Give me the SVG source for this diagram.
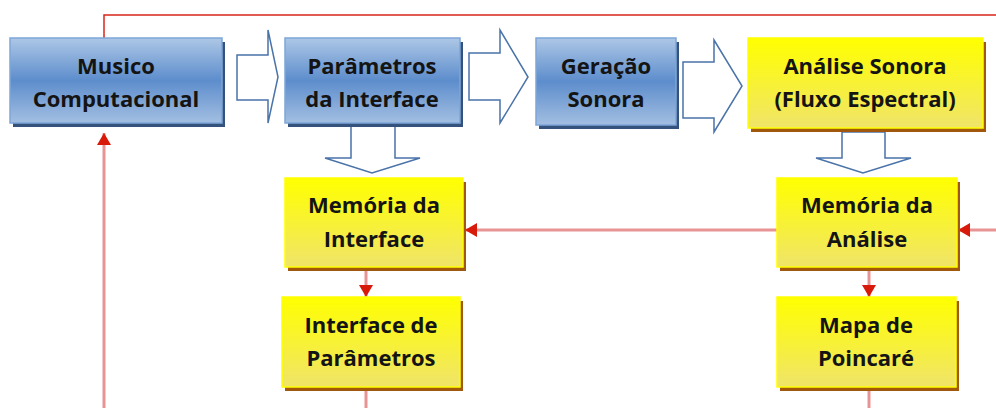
<svg xmlns="http://www.w3.org/2000/svg" width="996" height="408" viewBox="0 0 996 408">
<defs>
<linearGradient id="gb" x1="0" y1="0" x2="0" y2="1">
<stop offset="0" stop-color="#adc7e6"/>
<stop offset="0.5" stop-color="#5d8dcc"/>
<stop offset="1" stop-color="#a3bfe2"/>
</linearGradient>
<linearGradient id="gy" x1="0" y1="0" x2="0" y2="1">
<stop offset="0" stop-color="#ffff00"/>
<stop offset="1" stop-color="#f0e46a"/>
</linearGradient>
<marker id="ah" viewBox="0 0 12 14" refX="12" refY="7" markerWidth="12" markerHeight="14" markerUnits="userSpaceOnUse" orient="auto">
<path d="M0,0 L12,7 L0,14 Z" fill="#d81a0a"/>
</marker>
<style>
.bs{fill:#34527c}
.bb{fill:url(#gb);stroke:#7ea6d8;stroke-width:1.5}
.ys{fill:#a2580c}
.yb{fill:url(#gy);stroke:#ffff00;stroke-width:1.5}
.t{font-family:"Open Sans","Liberation Sans",sans-serif;font-weight:bold;font-size:22px;fill:#141414;text-anchor:middle}
.ha{fill:#ffffff;stroke:#4a73a9;stroke-width:1.5}
.c{fill:none;stroke:#e89494;stroke-width:3}
.top{fill:none;stroke:#d8261a;stroke-width:1.5}
</style>
</defs>
<g id="connectors">
<polyline class="top" points="996,15 104,15 104,38"/>
<line class="c" x1="104" y1="408" x2="104" y2="133" marker-end="url(#ah)"/>
<line class="c" x1="777" y1="230" x2="465" y2="230" marker-end="url(#ah)"/>
<line class="c" x1="996" y1="230" x2="958" y2="230" marker-end="url(#ah)"/>
<line class="c" x1="366" y1="268" x2="366" y2="297" marker-end="url(#ah)"/>
<line class="c" x1="869" y1="268" x2="869" y2="297" marker-end="url(#ah)"/>
<line class="c" x1="366" y1="390" x2="366" y2="408"/>
<line class="c" x1="869" y1="390" x2="869" y2="408"/>
<polygon class="ha" points="237,55 268,55 268,30 278,77 268,123 268,100 237,100"/>
<polygon class="ha" points="469,53 500,53 500,30 528,77 500,123 500,100 469,100"/>
<polygon class="ha" points="683,62 714,62 714,40 742,86 714,132 714,118 683,118"/>
<polygon class="ha" points="351,125 395,125 395,158 420,158 372,173 325,158 351,158"/>
<polygon class="ha" points="842,132 885,132 885,158 911,158 863,173 816,158 842,158"/>
</g>
<g id="musico">
<rect class="bs" x="13" y="42" width="212" height="85"/>
<rect class="bb" x="10" y="38" width="212" height="85"/>
<text class="t" x="116" y="74">Musico</text>
<text class="t" x="116" y="107">Computacional</text>
</g>
<g id="parametros">
<rect class="bs" x="288" y="42" width="175" height="85"/>
<rect class="bb" x="285" y="38" width="175" height="85"/>
<text class="t" x="372" y="74">Parâmetros</text>
<text class="t" x="372" y="107">da Interface</text>
</g>
<g id="geracao">
<rect class="bs" x="539" y="42" width="140" height="87"/>
<rect class="bb" x="536" y="38" width="140" height="87"/>
<text class="t" x="606" y="74">Geração</text>
<text class="t" x="606" y="107">Sonora</text>
</g>
<g id="analise">
<rect class="ys" x="751" y="42" width="235" height="90"/>
<rect class="yb" x="748" y="38" width="235" height="90"/>
<text class="t" x="865" y="74">Análise Sonora</text>
<text class="t" x="865" y="107">(Fluxo Espectral)</text>
</g>
<g id="memoria-interface">
<rect class="ys" x="288" y="182" width="178" height="89"/>
<rect class="yb" x="285" y="178" width="178" height="89"/>
<text class="t" x="374" y="213">Memória da</text>
<text class="t" x="374" y="247">Interface</text>
</g>
<g id="memoria-analise">
<rect class="ys" x="780" y="182" width="180" height="89"/>
<rect class="yb" x="777" y="178" width="180" height="89"/>
<text class="t" x="867" y="213">Memória da</text>
<text class="t" x="867" y="247">Análise</text>
</g>
<g id="interface-parametros">
<rect class="ys" x="285" y="301" width="178" height="90"/>
<rect class="yb" x="282" y="297" width="178" height="90"/>
<text class="t" x="371" y="333">Interface de</text>
<text class="t" x="371" y="366">Parâmetros</text>
</g>
<g id="mapa-poincare">
<rect class="ys" x="780" y="301" width="179" height="90"/>
<rect class="yb" x="777" y="297" width="179" height="90"/>
<text class="t" x="866" y="333">Mapa de</text>
<text class="t" x="866" y="366">Poincaré</text>
</g>
</svg>
